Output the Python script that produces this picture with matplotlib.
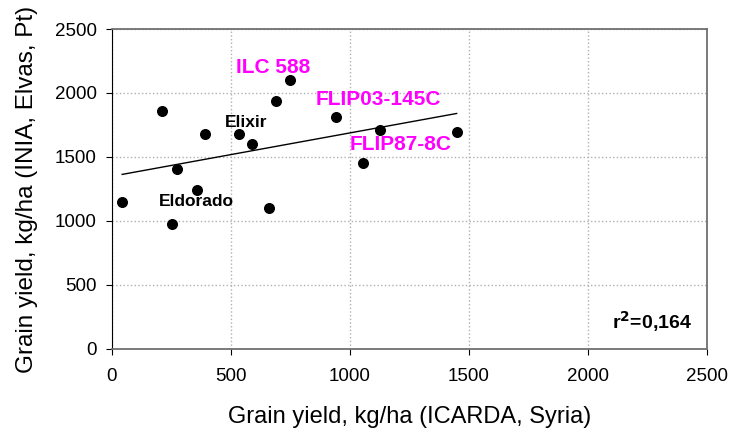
import matplotlib.pyplot as plt
import numpy as np

plt.rcParams['font.family'] = ['Liberation Sans', 'DejaVu Sans']

# yields, ICARDA (Syria) vs INIA (Elvas, Pt)
x_icarda = [43, 210, 251, 272, 357, 391, 534, 590, 660, 690, 749, 943, 1055, 1125, 1448]
y_inia = [1148, 1857, 977, 1409, 1245, 1680, 1677, 1602, 1099, 1935, 2101, 1815, 1451, 1708, 1695]

# labelled genotypes: name, x, y, colour
labels = ['ILC 588', 'FLIP03-145C', 'Elixir', 'FLIP87-8C', 'Eldorado']
label_x = [676, 1121, 563, 1214, 356]
label_y = [2203, 1951, 1768, 1594, 1151]
label_col = ['#ff00ff', '#ff00ff', 'black', '#ff00ff', 'black']
label_size = [15, 15, 12.5, 15, 12.5]

fig = plt.figure(figsize=(7.3, 4.29), dpi=100)
ax = fig.add_axes([0.1534, 0.1865, 0.8151, 0.7459])

ax.scatter(x_icarda, y_inia, s=48, color='black', zorder=3)

# linear trend line
xs = np.array(x_icarda)
ys = np.array(y_inia)
k, b = np.polyfit(xs, ys, 1)
xl = np.array([xs.min(), xs.max()])
ax.plot(xl, k * xl + b, color='black', lw=1)

for name, lx, ly, c, fs in zip(labels, label_x, label_y, label_col, label_size):
    ax.text(lx, ly, name, color=c, fontsize=fs, fontweight='bold',
            ha='center', va='center')

ax.text(2269, 213, r'r$^\mathbf{2}$=0,164', fontsize=14, fontweight='bold',
        ha='center', va='center')

ax.set_xlim(0, 2500)
ax.set_ylim(0, 2500)
ax.set_xticks(range(0, 2501, 500))
ax.set_yticks(range(0, 2501, 500))
ax.grid(True, linestyle=':', color='#b0b0b0', lw=1)
ax.set_axisbelow(True)

ax.spines['left'].set_color('black')
for s in ['top', 'right', 'bottom']:
    ax.spines[s].set_color('#707070')
    ax.spines[s].set_linewidth(1.3)
ax.tick_params(direction='out', length=4, labelsize=13.5)
ax.tick_params(axis='x', pad=10)
ax.tick_params(axis='y', pad=7)

ax.set_xlabel('Grain yield, kg/ha (ICARDA, Syria)', fontsize=17, labelpad=15)
ax.set_ylabel('Grain yield, kg/ha (INIA, Elvas, Pt)', fontsize=17.5, labelpad=12)

fig.savefig('out.png', dpi=100)
